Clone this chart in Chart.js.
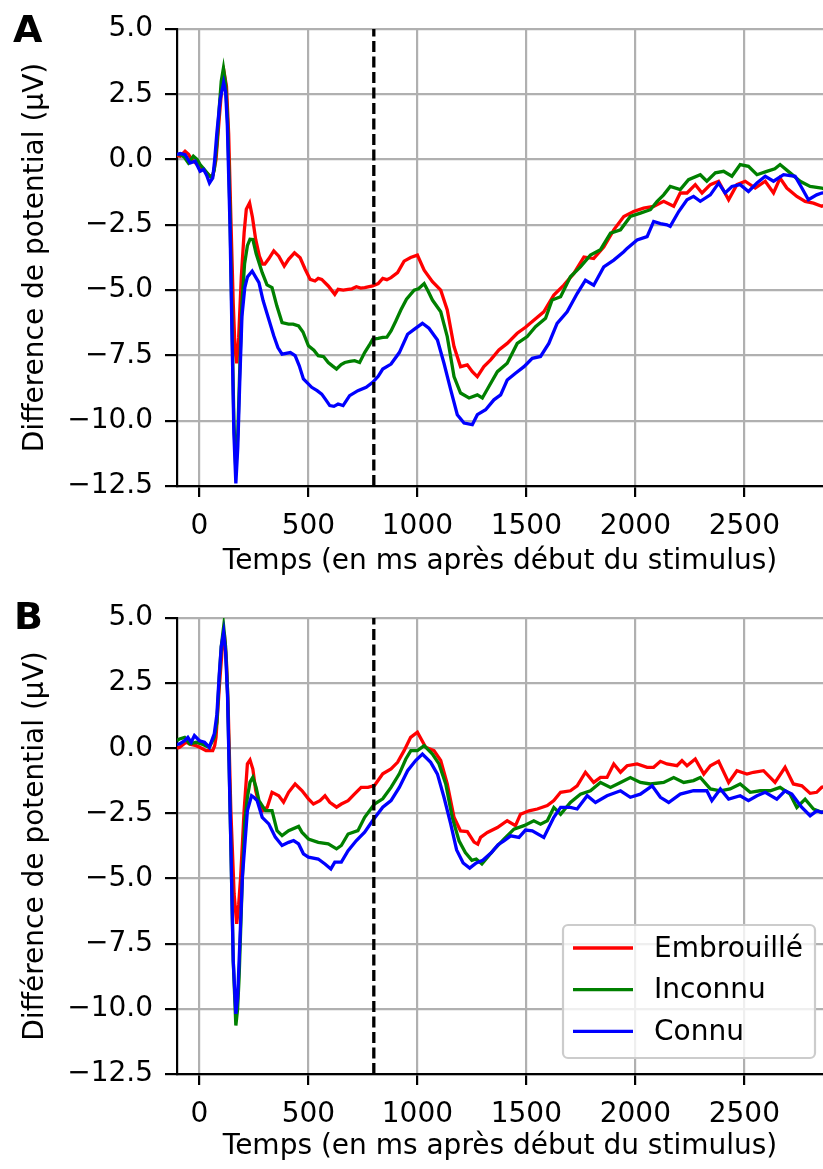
<!DOCTYPE html>
<html>
<head>
<meta charset="utf-8">
<script src="https://cdn.jsdelivr.net/npm/chart.js@4.4.0/dist/chart.umd.min.js"></script>
<style>
  html, body { margin: 0; padding: 0; background: #fff; }
  #wrap { position: relative; width: 823px; height: 1169px; overflow: hidden; }
  canvas { position: absolute; left: 0; }
  .letter { position: absolute; font: bold 38px 'DejaVu Sans'; line-height: 38px; color: #000; }
</style>
</head>
<body>
<div id="wrap">
  <canvas id="chartA" width="823" height="585" style="top:0"></canvas>
  <canvas id="chartB" width="823" height="584" style="top:585px"></canvas>
  <div class="letter" style="left:13px;top:10px">A</div>
  <div class="letter" style="left:14px;top:597px">B</div>
</div>
<script>
// ---- data (ms, µV) ----
const seriesNames = ['Embrouillé', 'Inconnu', 'Connu'];
const xTicks = [0, 500, 1000, 1500, 2000, 2500];
const yTicks = [-12.5, -10, -7.5, -5, -2.5, 0, 2.5, 5];
const stimEnd = 800;

// panel A
const timeA_red = [-103,-88,-66,-50,-36,-15,3,20,34,49,62,76,91,104,114,124,134,145,155,163,171,180,192,205,215,230,243,258,275,290,300,318,341,364,389,409,436,462,485,508,530,545,561,591,621,636,660,682,700,720,740,758,795,820,841,860,879,909,939,969,1000,1031,1069,1107,1137,1168,1198,1229,1252,1275,1305,1336,1374,1412,1458,1496,1534,1580,1626,1672,1718,1764,1809,1855,1901,1947,1992,2038,2084,2130,2176,2206,2237,2275,2306,2344,2382,2428,2466,2504,2550,2596,2634,2664,2695,2741,2779,2817,2855,2880];
const potA_red = [0.15,0.13,0.32,0.2,0.0,-0.15,-0.32,-0.4,-0.51,-0.64,-0.6,0.0,1.6,2.9,3.3,2.8,1.0,-2.5,-5.5,-7.2,-7.8,-6.8,-4.5,-2.8,-1.9,-1.66,-2.2,-3.06,-3.7,-4.0,-4.0,-3.8,-3.5,-3.7,-4.08,-3.82,-3.57,-3.76,-4.2,-4.59,-4.65,-4.55,-4.59,-4.84,-5.16,-4.97,-5.0,-4.97,-4.95,-4.87,-4.92,-4.9,-4.84,-4.75,-4.55,-4.6,-4.52,-4.33,-3.89,-3.75,-3.66,-4.24,-4.68,-5.0,-5.76,-7.16,-7.93,-7.86,-8.12,-8.31,-7.93,-7.67,-7.29,-7.04,-6.65,-6.42,-6.15,-5.83,-5.19,-4.81,-4.36,-3.73,-3.79,-3.35,-2.69,-2.18,-1.99,-1.86,-1.79,-1.6,-1.79,-1.28,-1.28,-0.96,-1.28,-0.96,-0.83,-1.54,-0.96,-0.83,-1.09,-0.83,-1.28,-0.71,-1.09,-1.41,-1.6,-1.67,-1.79,-1.7];

const timeA_green = [-103,-88,-70,-51,-28,-10,3,20,42,57,68,80,91,100,110,120,129,140,150,158,167,176,185,195,207,220,232,245,260,288,310,333,355,379,409,430,455,475,500,525,545,570,591,610,629,650,667,690,712,735,758,780,795,820,841,860,879,900,924,950,985,1005,1031,1050,1069,1107,1137,1168,1198,1237,1275,1298,1328,1367,1412,1458,1504,1542,1588,1618,1657,1702,1748,1794,1840,1886,1932,1977,2023,2069,2100,2130,2160,2206,2244,2298,2328,2367,2405,2443,2481,2519,2558,2603,2640,2664,2710,2756,2802,2855,2880];
const potA_green = [0.2,0.19,0.1,-0.13,0.13,0.0,-0.19,-0.35,-0.58,-0.7,-0.4,0.6,2.0,3.0,3.5,2.9,1.5,-2.0,-6.5,-10.0,-11.9,-10.5,-8.0,-5.5,-4.0,-3.3,-3.05,-3.06,-3.6,-4.33,-4.8,-4.9,-5.6,-6.24,-6.3,-6.3,-6.37,-6.6,-7.13,-7.3,-7.51,-7.55,-7.77,-7.9,-8.02,-7.85,-7.77,-7.73,-7.7,-7.77,-7.39,-7.1,-6.88,-6.85,-6.81,-6.8,-6.56,-6.2,-5.76,-5.35,-5.0,-4.95,-4.75,-5.05,-5.38,-5.83,-6.78,-8.31,-8.94,-9.13,-9.01,-9.13,-8.69,-8.12,-7.8,-7.04,-6.78,-6.4,-6.08,-5.38,-5.25,-4.49,-4.11,-3.66,-3.45,-2.82,-2.69,-2.18,-2.05,-1.92,-1.6,-1.35,-1.03,-1.15,-0.77,-0.58,-0.83,-0.51,-0.45,-0.64,-0.19,-0.26,-0.58,-0.45,-0.35,-0.19,-0.51,-0.83,-1.03,-1.09,-1.15];

const timeA_blue = [-103,-88,-66,-43,-20,3,19,33,46,61,70,80,95,111,120,128,140,150,158,167,176,185,195,208,220,242,258,273,292,311,341,360,379,417,439,458,477,515,540,561,580,598,617,636,659,689,727,765,795,820,841,879,917,955,985,1023,1053,1092,1122,1153,1183,1214,1252,1275,1313,1351,1382,1412,1450,1489,1527,1565,1603,1641,1687,1733,1771,1809,1855,1901,1947,1962,2008,2054,2084,2115,2145,2160,2199,2237,2267,2298,2344,2382,2412,2443,2481,2519,2558,2596,2634,2680,2733,2764,2794,2832,2855,2880];
const potA_blue = [0.2,0.23,0.19,-0.13,-0.06,-0.45,-0.38,-0.6,-0.9,-0.7,0.0,1.03,2.3,2.95,2.6,1.3,-2.5,-7.0,-10.5,-12.4,-11.0,-8.5,-6.0,-4.9,-4.5,-4.27,-4.5,-4.71,-5.4,-5.92,-6.75,-7.2,-7.45,-7.39,-7.51,-7.9,-8.4,-8.72,-8.85,-8.98,-9.2,-9.42,-9.45,-9.36,-9.42,-9.04,-8.85,-8.72,-8.53,-8.3,-8.02,-7.83,-7.39,-6.69,-6.5,-6.27,-6.46,-6.91,-7.8,-8.82,-9.77,-10.09,-10.15,-9.77,-9.58,-9.2,-9.01,-8.44,-8.18,-7.93,-7.61,-7.54,-7.04,-6.27,-5.83,-5.13,-4.62,-4.81,-4.11,-3.85,-3.53,-3.4,-3.08,-2.95,-2.37,-2.45,-2.5,-2.56,-1.99,-1.54,-1.41,-1.6,-1.35,-0.9,-1.28,-1.03,-0.96,-1.22,-0.9,-0.64,-0.83,-0.58,-0.64,-1.09,-1.54,-1.35,-1.28,-1.25];

// panel B
const timeB_red = [-103,-91,-61,-40,-15,10,30,61,70,76,91,106,116,124,132,144,159,171,180,189,205,220,232,245,258,275,291,311,333,364,386,409,439,470,500,523,553,576,598,629,651,682,712,742,773,803,841,879,909,939,969,1000,1038,1076,1107,1137,1168,1198,1229,1260,1277,1290,1321,1367,1412,1450,1473,1512,1550,1596,1626,1657,1702,1733,1771,1809,1840,1870,1901,1932,1962,2008,2054,2084,2115,2145,2191,2214,2237,2275,2314,2344,2382,2428,2466,2512,2542,2588,2641,2687,2725,2764,2802,2832,2855,2880];
const potB_red = [0.0,0.04,0.23,0.15,0.1,0.0,-0.09,-0.09,0.1,0.42,2.34,4.0,4.2,3.3,1.5,-2.39,-5.59,-6.74,-6.0,-4.95,-2.39,-0.6,-0.45,-0.8,-1.62,-2.2,-2.39,-2.26,-1.69,-1.82,-2.07,-1.69,-1.37,-1.62,-1.94,-2.14,-2.01,-1.82,-2.07,-2.26,-2.14,-2.01,-1.75,-1.5,-1.5,-1.43,-0.98,-0.79,-0.54,-0.09,0.42,0.62,0.04,-0.09,-0.47,-1.37,-2.65,-3.17,-3.2,-3.6,-3.68,-3.42,-3.23,-3.04,-2.78,-2.97,-2.53,-2.4,-2.33,-2.2,-2.01,-1.69,-1.63,-1.44,-0.92,-1.31,-1.12,-1.12,-0.6,-0.92,-0.67,-0.6,-0.73,-0.73,-0.5,-0.6,-0.67,-0.47,-0.67,-0.41,-0.99,-0.67,-0.5,-1.31,-0.86,-0.99,-0.92,-0.86,-1.31,-0.73,-1.37,-1.44,-1.73,-1.69,-1.5,-1.45];

const timeB_green = [-103,-91,-68,-45,-15,15,45,68,80,91,100,111,120,129,144,155,167,175,182,197,208,220,232,245,260,273,303,333,356,379,409,455,470,500,545,591,629,651,682,727,758,803,841,879,917,947,970,1000,1031,1069,1099,1130,1160,1191,1220,1250,1270,1296,1320,1350,1397,1443,1489,1534,1565,1596,1626,1657,1702,1748,1794,1840,1886,1932,1977,2023,2069,2130,2176,2222,2267,2298,2344,2390,2435,2481,2527,2573,2619,2664,2710,2741,2779,2817,2855,2880];
const potB_green = [0.3,0.36,0.42,0.17,0.23,0.15,0.04,0.42,1.0,2.72,3.9,4.67,3.9,2.21,-3.67,-8.15,-10.64,-10.0,-8.79,-4.95,-2.8,-1.88,-1.3,-1.11,-1.5,-2.01,-2.39,-2.39,-3.16,-3.35,-3.16,-3.0,-3.22,-3.48,-3.61,-3.67,-3.86,-3.73,-3.29,-3.16,-2.65,-2.14,-1.94,-1.5,-0.98,-0.41,-0.09,-0.09,0.1,-0.22,-0.6,-1.37,-2.65,-3.55,-4.0,-4.3,-4.25,-4.44,-4.2,-3.9,-3.49,-3.1,-2.97,-2.78,-2.91,-2.78,-2.27,-2.53,-2.08,-1.76,-1.63,-1.31,-1.5,-1.31,-1.12,-1.31,-1.37,-1.31,-1.12,-1.31,-1.24,-1.12,-1.56,-1.63,-1.56,-1.37,-1.69,-1.63,-1.63,-1.5,-1.76,-2.27,-1.95,-2.33,-2.46,-2.4];

const timeB_blue = [-103,-91,-68,-53,-38,-23,0,23,45,68,80,91,100,111,120,129,144,155,167,175,182,197,220,239,252,265,288,318,348,379,409,432,455,477,500,545,576,603,621,651,682,720,758,795,841,879,917,955,992,1023,1061,1092,1122,1153,1180,1210,1240,1270,1300,1340,1370,1397,1428,1466,1496,1527,1580,1626,1657,1702,1733,1779,1817,1870,1932,1977,2023,2077,2115,2153,2206,2267,2328,2351,2390,2428,2481,2519,2558,2596,2649,2687,2718,2764,2802,2832,2855,2880];
const potB_blue = [0.15,0.17,0.29,0.42,0.23,0.49,0.29,0.23,0.04,0.55,1.3,2.85,3.9,4.45,3.7,1.96,-3.67,-8.15,-10.19,-9.6,-8.15,-4.95,-2.39,-1.82,-1.9,-2.01,-2.65,-2.9,-3.41,-3.73,-3.61,-3.54,-3.67,-4.05,-4.18,-4.25,-4.44,-4.63,-4.37,-4.37,-3.93,-3.54,-3.22,-2.77,-2.26,-2.01,-1.5,-0.86,-0.47,-0.22,-0.54,-0.99,-1.88,-2.91,-3.9,-4.4,-4.6,-4.4,-4.3,-4.0,-3.7,-3.55,-3.36,-3.42,-3.14,-3.17,-3.42,-2.65,-2.27,-2.27,-2.33,-1.82,-2.08,-1.82,-1.63,-1.88,-1.76,-1.44,-1.88,-2.08,-1.76,-1.63,-1.63,-2.01,-1.56,-1.95,-1.82,-2.01,-1.82,-1.69,-1.95,-1.63,-1.76,-2.27,-2.59,-2.4,-2.46,-2.4];

const colors = ['#ff0000', '#008000', '#0000ff'];

Chart.defaults.font.family = "'DejaVu Sans', sans-serif";
Chart.defaults.font.size = 28;
Chart.defaults.color = '#000';

function pts(ts, vs) {
  return ts.map((t, i) => ({ x: t, y: vs[i] }));
}

// legend drawn inside the plot (lower right), like matplotlib
const boxLegend = {
  id: 'boxLegend',
  afterDraw(chart, args, opts) {
    if (!opts.show) return;
    const ctx = chart.ctx;
    const area = chart.chartArea;
    const items = chart.data.datasets.filter(d => d.label);
    const w = 252, h = 133;
    const x0 = area.right - 8 - w, y0 = area.bottom - 16 - h;
    ctx.save();
    ctx.beginPath();
    ctx.roundRect(x0, y0, w, h, 5);
    ctx.fillStyle = 'rgba(255,255,255,0.8)';
    ctx.fill();
    ctx.strokeStyle = '#cccccc';
    ctx.lineWidth = 2.2;
    ctx.stroke();
    ctx.font = "28px 'DejaVu Sans'";
    ctx.textBaseline = 'middle';
    items.forEach((d, i) => {
      const y = y0 + 23 + i * 41.7;
      ctx.strokeStyle = d.borderColor;
      ctx.lineWidth = 3.3;
      ctx.beginPath();
      ctx.moveTo(x0 + 10, y);
      ctx.lineTo(x0 + 70, y);
      ctx.stroke();
      ctx.fillStyle = '#000';
      ctx.fillText(d.label, x0 + 91, y + 1.5);
    });
    ctx.restore();
  }
};

function makeChart(id, data, yTitle, padTop, xHeight, titlePad, showLegend) {
  const lines = data.map((d, i) => ({
    label: seriesNames[i],
    data: pts(d[0], d[1]),
    borderColor: colors[i],
    borderWidth: 3.3,
    pointRadius: 0,
    tension: 0,
    order: 3 - i
  }));
  lines.push({
    label: '',
    data: [{ x: stimEnd, y: yTicks[0] }, { x: stimEnd, y: yTicks[yTicks.length - 1] }],
    borderColor: '#000',
    borderWidth: 3.3,
    borderDash: [11, 4.5],
    pointRadius: 0,
    order: 0
  });
  return new Chart(document.getElementById(id), {
    type: 'line',
    data: { datasets: lines },
    options: {
      responsive: false,
      animation: false,
      devicePixelRatio: 1,
      layout: { padding: { top: padTop, right: 0, left: 0, bottom: 0 } },
      plugins: {
        legend: { display: false },
        tooltip: { enabled: false },
        boxLegend: { show: showLegend }
      },
      scales: {
        x: {
          type: 'linear',
          min: -103,
          max: 2861,
          afterBuildTicks: s => { s.ticks = xTicks.map(v => ({ value: v })); },
          afterFit: s => { s.height = xHeight; },
          ticks: { padding: 13, maxRotation: 0, autoSkip: false, callback: v => String(v) },
          grid: { color: '#b0b0b0', lineWidth: 2.2, tickColor: '#000', tickLength: 11, tickWidth: 2.2 },
          border: { display: true, color: '#000', width: 2.2 },
          title: { display: true, text: 'Temps (en ms après début du stimulus)', padding: { top: 0, bottom: titlePad } }
        },
        y: {
          min: yTicks[0],
          max: yTicks[yTicks.length - 1],
          afterBuildTicks: s => { s.ticks = yTicks.map(v => ({ value: v })); },
          afterFit: s => { s.width = 177; },
          ticks: { padding: 12, autoSkip: false, callback: v => (v < 0 ? '\u2212' : '') + Math.abs(v).toFixed(1) },
          grid: { color: '#b0b0b0', lineWidth: 2.2, tickColor: '#000', tickLength: 12, tickWidth: 2.2 },
          border: { display: true, color: '#000', width: 2.2 },
          title: { display: true, text: yTitle, padding: { top: 19, bottom: 0 } }
        }
      }
    },
    plugins: [boxLegend]
  });
}

makeChart('chartA',
  [[timeA_red, potA_red], [timeA_green, potA_green], [timeA_blue, potA_blue]],
  'Difference de potential (µV)', 29, 99, 6, false);

makeChart('chartB',
  [[timeB_red, potB_red], [timeB_green, potB_green], [timeB_blue, potB_blue]],
  'Différence de potential (µV)', 33, 95, 5.5, true);
</script>
</body>
</html>
